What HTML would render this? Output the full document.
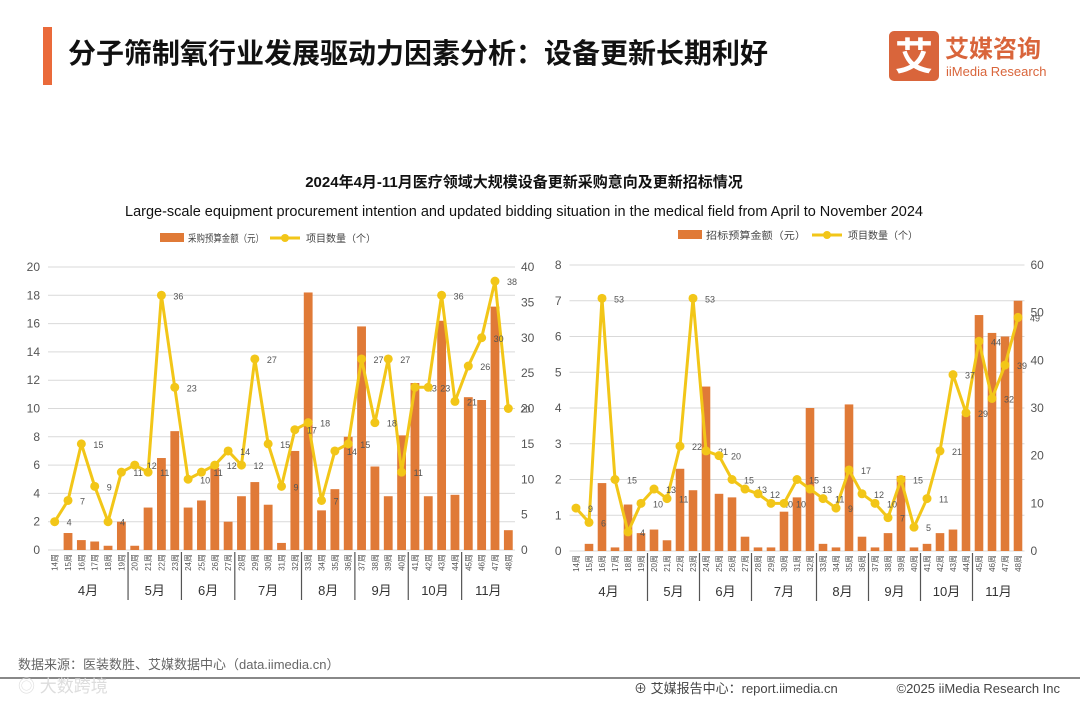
<!DOCTYPE html>
<html><head><meta charset="utf-8">
<style>
body{margin:0;background:#fff;}
#root{position:relative;width:1080px;height:702px;overflow:hidden;font-family:"Liberation Sans","Noto Sans CJK SC",sans-serif;}
svg text{font-family:"Liberation Sans","Noto Sans CJK SC",sans-serif;}
</style></head><body>
<div id="root">
<svg id="svg" width="1080" height="702">
  <rect x="43" y="27" width="9" height="58" fill="#ea6a3a"/>
  <text x="68" y="63" font-size="28" font-weight="bold" fill="#111">分子筛制氧行业发展驱动力因素分析：设备更新长期利好</text>
  <g>
    <rect x="889" y="31" width="50" height="50" rx="5" fill="#d9653b"/>
    <text x="914" y="70" font-size="38" font-weight="bold" fill="#fff" text-anchor="middle">艾</text>
    <text x="945" y="57" font-size="24" font-weight="bold" fill="#d9653b">艾媒咨询</text>
    <text x="946" y="76" font-size="13" fill="#d9653b">iiMedia Research</text>
  </g>
  <text x="524" y="187" font-size="15" font-weight="bold" fill="#111" text-anchor="middle">2024年4月-11月医疗领域大规模设备更新采购意向及更新招标情况</text>
  <text x="524" y="216" font-size="14.5" fill="#111" text-anchor="middle">Large-scale equipment procurement intention and updated bidding situation in the medical field from April to November 2024</text>
  <text x="18" y="669" font-size="13" fill="#666">数据来源：医装数胜、艾媒数据中心（data.iimedia.cn）</text>
  <rect x="0" y="677" width="1080" height="2" fill="#888"/>
  <text x="634" y="693" font-size="13" fill="#444">⊕ 艾媒报告中心：report.iimedia.cn</text>
  <text x="1060" y="693" font-size="13" fill="#444" text-anchor="end">©2025  iiMedia Research  Inc</text>
  <text x="18" y="692" font-size="17" fill="#ddd">◎ 大数跨境</text>
</svg>
</div>
<script>
const weeks = ["14周","15周","16周","17周","18周","19周","20周","21周","22周","23周","24周","25周","26周","27周","28周","29周","30周","31周","32周","33周","34周","35周","36周","37周","38周","39周","40周","41周","42周","43周","44周","45周","46周","47周","48周"];
const months = ["4月","5月","6月","7月","8月","9月","10月","11月"];
const monthStarts = [0,6,10,14,19,23,27,31];
const leftBudget = [0,1.2,0.7,0.6,0.3,2.0,0.3,3.0,6.5,8.4,3.0,3.5,5.8,2.0,3.8,4.8,3.2,0.5,7.0,18.2,2.8,4.3,8.0,15.8,5.9,3.8,8.1,11.8,3.8,16.2,3.9,10.8,10.6,17.2,1.4];
const leftCount = [4,7,15,9,4,11,12,11,36,23,10,11,12,14,12,27,15,9,17,18,7,14,15,27,18,27,11,23,23,36,21,26,30,38,20];
const leftTicksL = [0,2,4,6,8,10,12,14,16,18,20];
const leftTicksR = [0,5,10,15,20,25,30,35,40];
const rightBudget = [0,0.2,1.9,0.1,1.3,0.5,0.6,0.3,2.3,1.7,4.6,1.6,1.5,0.4,0.1,0.1,1.1,1.5,4.0,0.2,0.1,4.1,0.4,0.1,0.5,2.1,0.1,0.2,0.5,0.6,3.8,6.6,6.1,6.0,7.0];
const rightCount = [9,6,53,15,4,10,13,11,22,53,21,20,15,13,12,10,10,15,13,11,9,17,12,10,7,15,5,11,21,37,29,44,32,39,49];
const rightTicksL = [0,1,2,3,4,5,6,7,8];
const rightTicksR = [0,10,20,30,40,50,60];

const NS="http://www.w3.org/2000/svg";
const svg=document.getElementById('svg');
function mk(tag,attrs,parent){const e=document.createElementNS(NS,tag);for(const k in attrs)e.setAttribute(k,attrs[k]);(parent||svg).appendChild(e);return e;}

function drawChart(cfg){
  const g=mk('g',{});
  
  
  const {x0,x1,y0,y1}=cfg;
  const maxL=cfg.ticksL[cfg.ticksL.length-1], maxR=cfg.ticksR[cfg.ticksR.length-1];
  const yL=v=>y0-(v/maxL)*(y0-y1);
  const yR=v=>y0-(v/maxR)*(y0-y1);
  const bw=(x1-x0)/weeks.length;
  const xc=i=>x0+bw*(i+0.5);
  cfg.ticksL.forEach(t=>{
    const ln=mk('line',{x1:x0,x2:x1,y1:yL(t),y2:yL(t),stroke:'#d9d9d9','stroke-width':1},g);
    
    
    const tx=mk('text',{x:x0-8,y:yL(t)+4,'font-size':12,fill:'#555','text-anchor':'end'},g);
    tx.textContent=t;
    
    
  });
  cfg.ticksR.forEach(t=>{
    const tx=mk('text',{x:x1+6,y:yR(t)+4,'font-size':12,fill:'#555'},g);
    tx.textContent=t;
    
    
  });
  cfg.budget.forEach((v,i)=>{
    const r=mk('rect',{x:xc(i)-bw*0.33,y:yL(v),width:bw*0.66,height:y0-yL(v),fill:'#e07a37'},g);
    
    
  });
  const pts=cfg.count.map((v,i)=>xc(i)+','+yR(v)).join(' ');
  const pl=mk('polyline',{points:pts,fill:'none',stroke:'#f2c618','stroke-width':3,'stroke-linejoin':'round'},g);
  
  
  cfg.count.forEach((v,i)=>{
    const c=mk('circle',{cx:xc(i),cy:yR(v),r:4.5,fill:'#f2c618'},g);
    
    
    const t=mk('text',{x:xc(i)+12,y:yR(v)+4,'font-size':9,fill:'#555'},g);
    t.textContent=v;
    
    
  });
  weeks.forEach((w,i)=>{
    const t=mk('text',{x:0,y:0,'font-size':8,fill:'#555','text-anchor':'end',transform:`translate(${xc(i)+3},${y0+4}) rotate(-90)`},g);
    t.textContent=w;
    
    
  });
  months.forEach((m,k)=>{
    const s=monthStarts[k], e=k+1<months.length?monthStarts[k+1]:weeks.length;
    if(k>0){
      const ln=mk('line',{x1:x0+bw*s,x2:x0+bw*s,y1:y0+2,y2:y0+50,stroke:'#555','stroke-width':1.2},g);
      
      
    }
    const t=mk('text',{x:x0+bw*(s+e)/2,y:y0+45,'font-size':13,fill:'#333','text-anchor':'middle'},g);
    t.textContent=m;
    
    
  });
  const lg=mk('g',{},g);
  
  
  mk('rect',{x:cfg.legX,y:cfg.legY-5,width:24,height:9,fill:'#e07a37'},lg);
  const t1=mk('text',{x:cfg.legX+28,y:cfg.legY+4,'font-size':10,fill:'#444',textLength:cfg.legW,lengthAdjust:'spacingAndGlyphs'},lg);t1.textContent=cfg.legA;
  mk('line',{x1:cfg.legX+cfg.legW+34,x2:cfg.legX+cfg.legW+64,y1:cfg.legY,y2:cfg.legY,stroke:'#f2c618','stroke-width':3},lg);
  mk('circle',{cx:cfg.legX+cfg.legW+49,cy:cfg.legY,r:4,fill:'#f2c618'},lg);
  const t2=mk('text',{x:cfg.legX+cfg.legW+70,y:cfg.legY+4,'font-size':10,fill:'#444'},lg);t2.textContent='项目数量（个）';
}
drawChart({name:'procurement-intention-chart',x0:48,x1:515,y0:550,y1:267,budget:leftBudget,count:leftCount,ticksL:leftTicksL,ticksR:leftTicksR,legX:160,legY:238,legW:76,legA:'采购预算金额（元）'});
drawChart({name:'bidding-chart',x0:569.5,x1:1024.5,y0:551,y1:265,budget:rightBudget,count:rightCount,ticksL:rightTicksL,ticksR:rightTicksR,legX:678,legY:235,legW:100,legA:'招标预算金额（元）'});
</script>
</body></html>
